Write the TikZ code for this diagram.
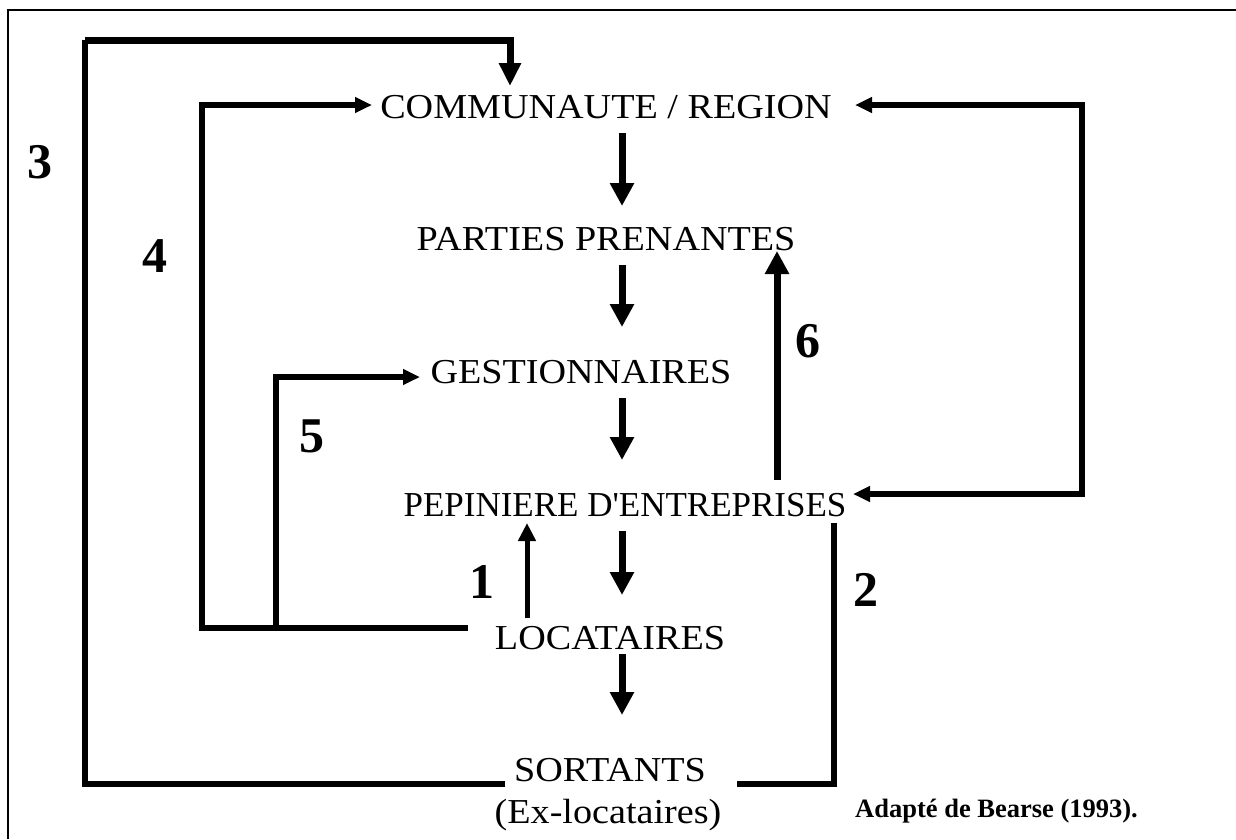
\documentclass[tikz,border=0pt]{standalone}
\usepackage{fontspec}
\setmainfont{Liberation Serif}[Ligatures=TeXOff]
\newfontfamily\widefont{Liberation Serif}[Ligatures=TeXOff,FakeStretch=1.09]
\usetikzlibrary{arrows.meta}

\begin{document}
\begin{tikzpicture}[x=1pt,y=-1pt,
  lbl/.style={font=\widefont\fontsize{35}{40}\selectfont, inner sep=0pt, anchor=base},
  lblnarrow/.style={font=\fontsize{35}{40}\selectfont, inner sep=0pt, anchor=base},
  num/.style={font=\bfseries\fontsize{50}{54}\selectfont, inner sep=0pt, anchor=base},
  src/.style={font=\bfseries\fontsize{26.5}{30}\selectfont, inner sep=0pt, anchor=base west},
  flow/.style={line width=7pt, -{Triangle[length=23pt,width=23pt]}},
  thinflow/.style={line width=5pt, -{Triangle[length=18pt,width=17pt]}},
  loopline/.style={line width=5.5pt},
  loophead/.style={loopline, -{Triangle[length=17pt,width=15pt]}},
  loopdown/.style={line width=7pt, -{Triangle[length=23pt,width=21pt]}},
  frame/.style={line width=2pt}]

\useasboundingbox (0,0) rectangle (1236,839);

% outer frame (left and top edges)
\coordinate (fbl) at (8,839);
\coordinate (ftl) at (8,10);
\coordinate (ftr) at (1236,10);
\draw[frame] (fbl) -- (ftl) -- (ftr);

% levels
\node[lbl] (comm)  at (606,118) {COMMUNAUTE / REGION};
\node[lbl] (part)  at (606,250) {PARTIES PRENANTES};
\node[lbl] (gest)  at (581,383) {GESTIONNAIRES};
\node[lblnarrow] (pep) at (625,516) {PEPINIERE D'ENTREPRISES};
\node[lbl] (loc)   at (610,649) {LOCATAIRES};
\node[lbl] (sort)  at (610,781) {SORTANTS};
\node[lbl] (exloc) at (608,823) {(Ex-locataires)};
\node[src] (bearse) at (855,817) {Adapté de Bearse (1993).};

% loop numbers
\node[num] (n3) at (40,178) {3};
\node[num] (n4) at (155,272) {4};
\node[num] (n5) at (312,452) {5};
\node[num] (n6) at (808,357) {6};
\node[num] (n1) at (482,598) {1};
\node[num] (n2) at (866,606) {2};

% main downward chain
\draw[flow] ([xshift=16,yshift=-15]comm.base) -- ([xshift=16,yshift=44]part.base);
\draw[flow] ([xshift=16,yshift=-15]part.base) -- ([xshift=41,yshift=56]gest.base);
\draw[flow] ([xshift=41,yshift=-15]gest.base) -- ([xshift=-3,yshift=56]pep.base);
\draw[flow] ([xshift=-3,yshift=-15]pep.base)  -- ([xshift=12,yshift=54]loc.base);
\draw[flow] ([xshift=12,yshift=-5]loc.base)   -- ([xshift=12,yshift=66]sort.base);

% 6: incubator back to stakeholders
\draw[flow] ([xshift=152,yshift=36]pep.base) -- ([xshift=171,yshift=-1]part.base);

% 1: tenants back to incubator
\draw[thinflow] ([xshift=-83,yshift=31]loc.base) -- ([xshift=-98,yshift=-7]pep.base);

% 3: leavers to community
\coordinate (c3) at (85,40);
\draw[loopline] ([xshift=-105,yshift=-3]sort.base) -| (c3);
\draw[loopdown] (c3) -| ([xshift=-96,yshift=32]comm.base);

% 4: tenants to community
\coordinate (c4) at (202,105);
\draw[loophead] ([xshift=-142,yshift=21]loc.base) -| (c4) -- ([xshift=-234,yshift=13]comm.base);

% 5: tenants to managers
\coordinate (j5) at (276,628);
\draw[loophead] (j5) |- ([xshift=-161,yshift=6]gest.base);

% community <-> incubator on the right
\coordinate (cr) at (1082,494);
\draw[loopline, {Triangle[length=17pt,width=15pt]}-{Triangle[length=17pt,width=15pt]}]
  ([xshift=249,yshift=13]comm.base) -| (cr) -- ([xshift=228,yshift=22]pep.base);

% 2: incubator to leavers
\draw[loopline] ([xshift=209,yshift=-7]pep.base) |- ([xshift=127,yshift=-3]sort.base);

\end{tikzpicture}
\end{document}
